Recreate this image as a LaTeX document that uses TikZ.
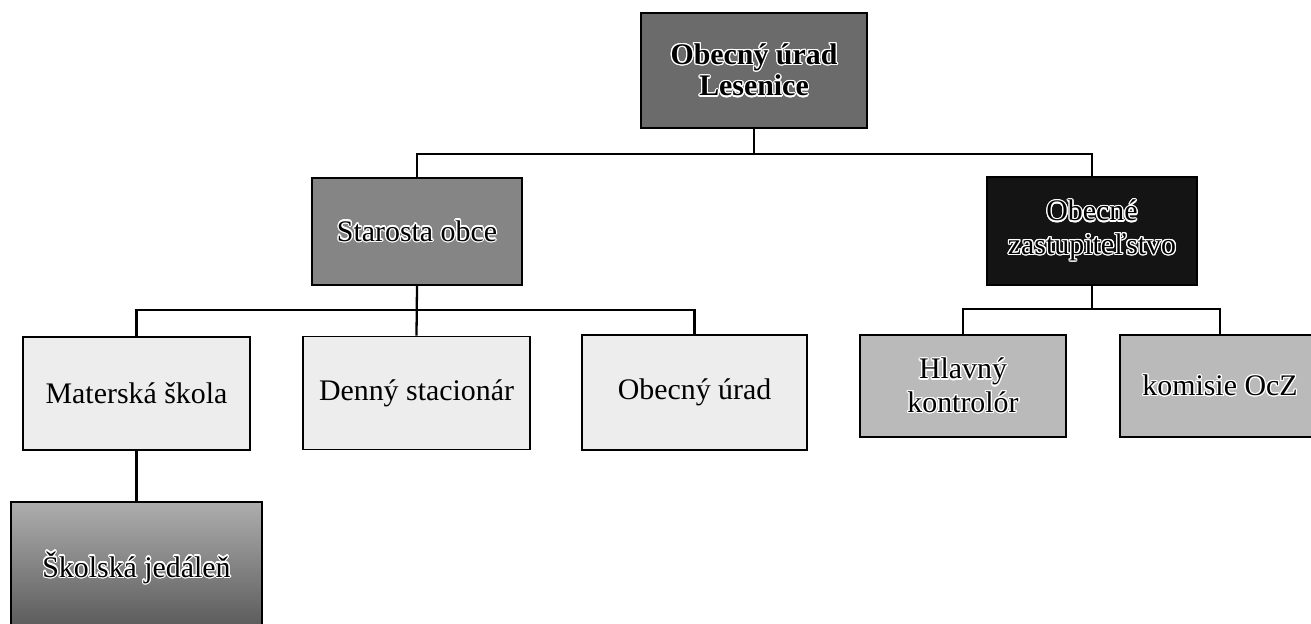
\documentclass[tikz,border=0pt]{standalone}
\usepackage{fontspec}
\setmainfont{Liberation Serif}
\usepackage{contour}
\usepackage{tikz}
\usetikzlibrary{positioning}

\contourlength{0.7pt}
\newcommand{\haloText}[1]{\contour{white}{#1}}

\begin{document}
\begin{tikzpicture}[
  x=0.02cm, y=-0.02cm,
  every node/.style={font=\fontsize{17}{19}\selectfont},
  unit/.style={draw=black, line width=0.9pt, align=center, inner sep=2pt},
  link/.style={draw=black, line width=1.3pt}
]
\useasboundingbox (0,0) rectangle (1311,623);

% ---- TOP ----
\node[unit, fill=black!58, minimum width=4.52cm, minimum height=2.30cm,
      font=\fontsize{17}{18}\selectfont\bfseries] (urad) at (754, 70.5)
  {\haloText{Obecný úrad}\\\haloText{Lesenice}};

% ---- SECOND LEVEL ----
\node[unit, fill=black!48, minimum width=4.20cm, minimum height=2.14cm]
  (starosta) at (417, 231.5) {\haloText{Starosta obce}};
\node[unit, fill=black!92, minimum width=4.20cm, minimum height=2.16cm]
  (zastup) at (1092, 231) {\haloText{Obecné}\\\haloText{zastupiteľstvo}};

% ---- UNDER STAROSTA ----
\node[unit, fill=black!7, minimum width=4.54cm, minimum height=2.26cm]
  (materska) at (136.5, 393.5) {Materská škola};
\node[unit, fill=black!7, minimum width=4.54cm, minimum height=2.26cm]
  (denny) at (416.5, 393) {Denný stacionár};
\node[unit, fill=black!7, minimum width=4.50cm, minimum height=2.30cm]
  (obecny) at (694.5, 392.5) {Obecný úrad};

\node[unit, top color=black!32, bottom color=black!66,
      minimum width=5.02cm, minimum height=2.64cm]
  (skolska) at (136.5, 568) {\haloText{Školská jedáleň}};

% ---- UNDER ZASTUPITELSTVO ----
\node[unit, fill=black!27, minimum width=4.12cm, minimum height=2.04cm]
  (hlavny) at (963, 386) {\haloText{Hlavný}\\\haloText{kontrolór}};
\node[unit, fill=black!27, minimum width=4.00cm, minimum height=2.04cm]
  (komisie) at (1220, 386) {\haloText{komisie OcZ}};

% ---- CONNECTORS ----
\draw[link] (urad.south) -- ++(0,25) -| (starosta.north);
\draw[link] (urad.south) -- ++(0,25) -| (zastup.north);

\draw[link] (starosta.south) -- ++(0,24) -| (materska.north);
\draw[link] (starosta.south) -- (denny.north);
\draw[link] (starosta.south) -- ++(0,24) -| (obecny.north);

\draw[link] (zastup.south) -- ++(0,23) -| (hlavny.north);
\draw[link] (zastup.south) -- ++(0,23) -| (komisie.north);

\draw[link] (materska.south) -- (skolska.north);

\end{tikzpicture}
\end{document}
